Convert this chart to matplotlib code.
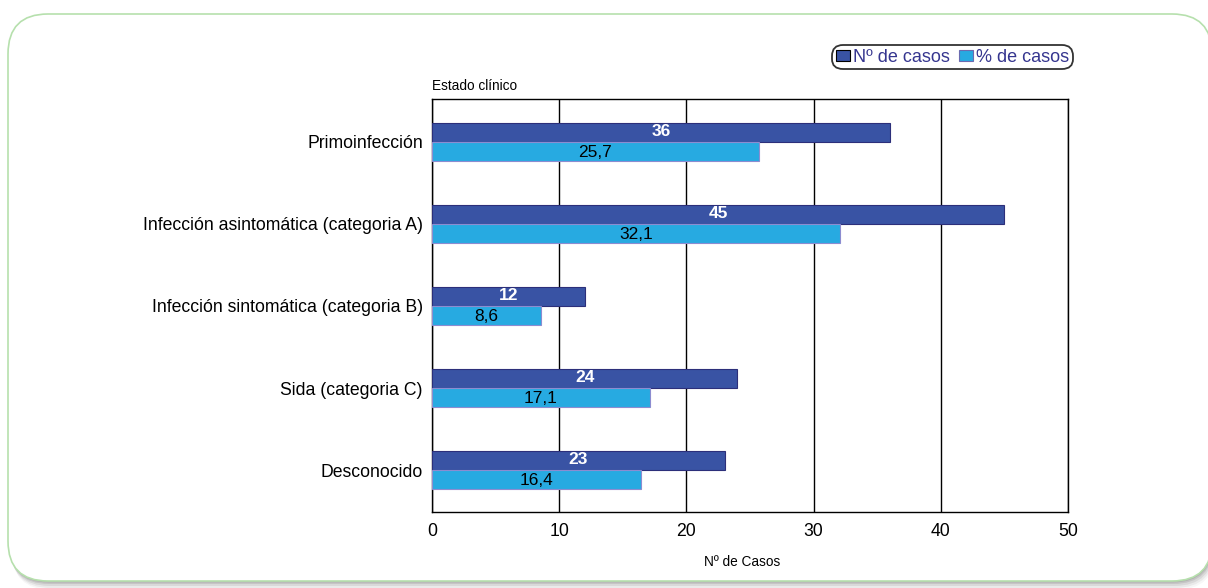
#!/usr/bin/env python3
"""Casos por estado clínico: número y porcentaje de casos."""

import matplotlib.pyplot as plt
from matplotlib.patches import FancyBboxPatch, Patch

plt.rcParams["font.family"] = ["Liberation Sans", "DejaVu Sans"]

categorias = [
    "Primoinfección",
    "Infección asintomática (categoria A)",
    "Infección sintomática (categoria B)",
    "Sida (categoria C)",
    "Desconocido",
]
n_casos = [36, 45, 12, 24, 23]
pct_casos = [25.7, 32.1, 8.6, 17.1, 16.4]
pct_etiquetas = ["25,7", "32,1", "8,6", "17,1", "16,4"]

color_n = "#3953a4"
color_pct = "#27aae1"
color_texto_leyenda = "#35358f"

W, H = 1208, 588
fig = plt.figure(figsize=(W / 100, H / 100), dpi=100)

# fondo: marco redondeado con sombra suave, en coordenadas de píxel
bg = fig.add_axes([0, 0, 1, 1])
bg.set_xlim(0, W)
bg.set_ylim(H, 0)
bg.axis("off")
for off, alpha in [(9, 0.03), (7, 0.05), (5, 0.07), (3, 0.09), (1.5, 0.10)]:
    bg.add_patch(FancyBboxPatch((8 + off * 0.4, 14 + off), 1204, 567,
                                boxstyle="round,pad=0,rounding_size=40",
                                facecolor="black", edgecolor="none", alpha=alpha))
bg.add_patch(FancyBboxPatch((8, 14), 1204, 567,
                            boxstyle="round,pad=0,rounding_size=40",
                            facecolor="white", edgecolor="#b6e0ad", linewidth=1.2))

ax = fig.add_axes([432 / W, 1 - 512 / H, 636 / W, 413 / H])
ax.patch.set_alpha(0)

pos = list(range(len(categorias)))
h = 0.23
bars_n = ax.barh([p - h / 2 for p in pos], n_casos, height=h, color=color_n,
                 edgecolor="#2c2f7a", linewidth=0.8, zorder=3)
bars_p = ax.barh([p + h / 2 for p in pos], pct_casos, height=h, color=color_pct,
                 edgecolor="#8c8cd0", linewidth=0.8, zorder=3)

for b, v in zip(bars_n, n_casos):
    ax.text(v / 2, b.get_y() + b.get_height() / 2 - 0.01, str(v), ha="center",
            va="center", color="white", fontsize=12.5, fontweight="bold", zorder=4)
for b, lab in zip(bars_p, pct_etiquetas):
    ax.text(b.get_width() / 2, b.get_y() + b.get_height() / 2 + 0.01, lab,
            ha="center", va="center", color="black", fontsize=12.5, zorder=4)

ax.set_xlim(0, 50)
ax.set_ylim(4.512, -0.524)
ax.set_xticks([0, 10, 20, 30, 40, 50])
ax.set_yticks(pos)
ax.set_yticklabels(categorias)
ax.tick_params(axis="both", length=0, labelsize=12.7)
ax.tick_params(axis="x", pad=8)
ax.tick_params(axis="y", pad=6.5)
ax.grid(axis="x", color="black", linewidth=1.0, zorder=1)
for s in ax.spines.values():
    s.set_color("black")
    s.set_linewidth(1.0)

ax.set_xlabel("Nº de Casos", fontsize=9.8)
ax.xaxis.set_label_coords(0.487, -0.105)
ax.text(0, 1.015, "Estado clínico", transform=ax.transAxes, fontsize=9.8,
        ha="left", va="bottom")

handles = [Patch(facecolor=color_n, edgecolor="black", linewidth=0.8),
           Patch(facecolor=color_pct, edgecolor="#6b6bb0", linewidth=0.8)]
leg = fig.legend(handles, ["Nº de casos", "% de casos"], loc="upper right",
                 bbox_to_anchor=(1071 / W, 1 - 47 / H), ncol=2, fontsize=13,
                 frameon=True, fancybox=True, handlelength=0.8, handleheight=0.55,
                 handletextpad=0.15, columnspacing=0.5, borderpad=0.1,
                 borderaxespad=0)
leg.get_frame().set_edgecolor("black")
leg.get_frame().set_linewidth(1.3)
leg.get_frame().set_boxstyle("round,pad=0.1,rounding_size=0.6")
for t in leg.get_texts():
    t.set_color(color_texto_leyenda)

fig.savefig("out.png", dpi=100)
